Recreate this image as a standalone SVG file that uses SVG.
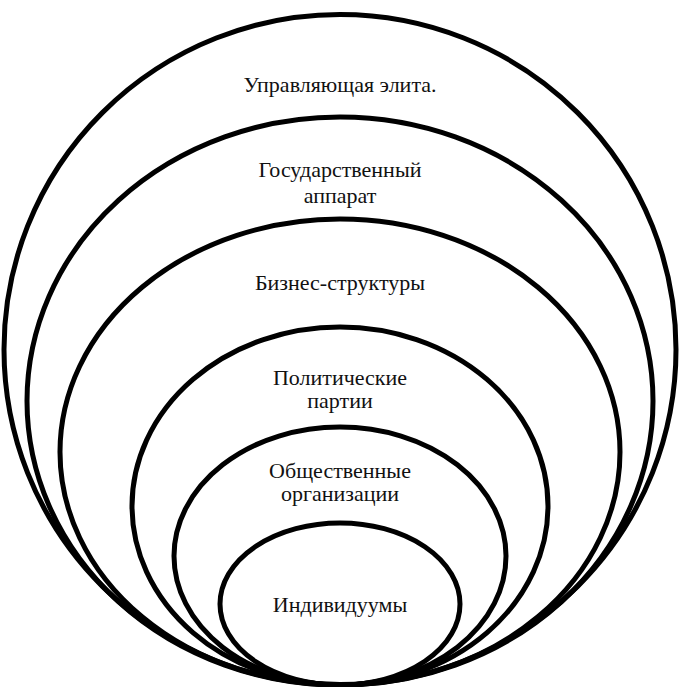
<svg xmlns="http://www.w3.org/2000/svg" width="680" height="687" viewBox="0 0 680 687">
<style>
.e{fill:none;stroke:#000;stroke-width:5}
.t{font-family:"Liberation Serif","Times New Roman",serif;font-size:22px;fill:#111;text-anchor:middle}
</style>
<rect width="680" height="687" fill="#fff"/>
<g id="n1"><ellipse class="e" cx="340" cy="349.5" rx="336" ry="335"/><text class="t" x="340" y="92">Управляющая элита.</text></g>
<g id="n2"><ellipse class="e" cx="340" cy="401" rx="313" ry="284"/><text class="t" x="340" y="177">Государственный</text><text class="t" x="340" y="203">аппарат</text></g>
<g id="n3"><ellipse class="e" cx="340" cy="452" rx="280" ry="233"/><text class="t" x="340" y="290">Бизнес-структуры</text></g>
<g id="n4"><ellipse class="e" cx="340" cy="506" rx="208" ry="179"/><text class="t" x="340" y="385">Политические</text><text class="t" x="340" y="408">партии</text></g>
<g id="n5"><ellipse class="e" cx="340" cy="556" rx="166" ry="129"/><text class="t" x="340" y="478">Общественные</text><text class="t" x="340" y="501">организации</text></g>
<g id="n6"><ellipse class="e" cx="340" cy="604" rx="120" ry="81"/><text class="t" x="340" y="612">Индивидуумы</text></g>
<g id="connectors"></g>
</svg>
